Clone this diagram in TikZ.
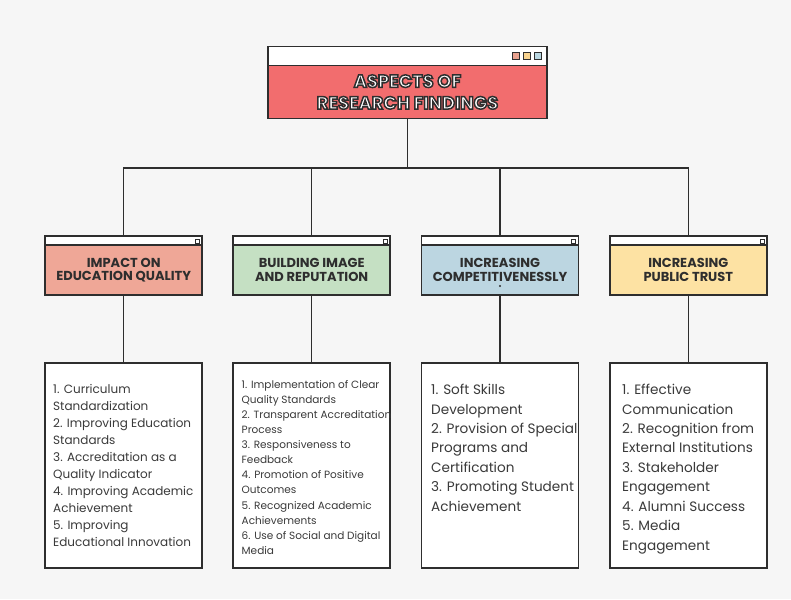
\documentclass[tikz,border=0pt]{standalone}
\usepackage{fontspec}
\setmainfont{Poppins}
\usetikzlibrary{positioning}
\definecolor{paper}{HTML}{F6F6F6}
\definecolor{ink}{HTML}{2E2E2E}
\definecolor{txt}{HTML}{3A3A3A}
\definecolor{titlered}{HTML}{F26D6E}
\definecolor{salmon}{HTML}{EFA797}
\definecolor{sage}{HTML}{C5E0C3}
\definecolor{sky}{HTML}{BCD6E1}
\definecolor{sand}{HTML}{FDE2A3}
\definecolor{sqpink}{HTML}{E9A28F}
\definecolor{sqyellow}{HTML}{F8D38F}
\definecolor{sqblue}{HTML}{B9D7E2}
% white letters with a dark outline
\newcommand{\outlined}[1]{\special{pdf:literal direct q 2 Tr 1.5 w 0.18 0.18 0.18 RG}#1\special{pdf:literal direct Q}}

\begin{document}
\begin{tikzpicture}[x=1pt,y=-1pt,
 bar/.style={draw=ink,line width=1.5pt,fill=white,minimum width=157pt,
 minimum height=9pt,inner sep=0pt,outer sep=0pt},
 cat/.style={draw=ink,line width=1.5pt,minimum width=157pt,minimum height=50pt,
 inner sep=0pt,outer sep=0pt,align=center,text=ink,
 font=\fontsize{13}{13.2}\selectfont\bfseries},
 list/.style={draw=ink,line width=1.5pt,fill=white,minimum width=157pt,
 minimum height=205pt,inner sep=0pt,outer sep=0pt},
 item/.style={anchor=north west,align=left,inner sep=0pt,text=txt},
 knob/.style={draw=ink,line width=0.8pt,fill=white,minimum size=4pt,inner sep=0pt},
 sq/.style={draw=ink,line width=0.8pt,minimum size=7pt,inner sep=0pt},
 link/.style={draw=ink,line width=1.5pt}]
% paper background
\fill[paper] (0,0) rectangle (791,599);

% title window
\node[bar,minimum width=279pt,minimum height=19pt] (tbar) at (407.5,56) {};
\node[draw=ink,line width=1.5pt,fill=titlered,minimum width=279pt,minimum height=53pt,
 inner sep=0pt,outer sep=0pt,anchor=north,align=center,text=white,
 font=\fontsize{17.8}{21.7}\selectfont\bfseries] (title) at (tbar.south)
 {\outlined{ASPECTS OF}\\\outlined{RESEARCH FINDINGS}};
\node[sq,fill=sqpink] (sq1) at (516,56) {};
\node[sq,fill=sqyellow] (sq2) at (527,56) {};
\node[sq,fill=sqblue] (sq3) at (538,56) {};

% category windows
\node[bar] (c1bar) at (123.7,240.5) {};
\node[cat,fill=salmon,anchor=north] (c1) at (c1bar.south) {IMPACT ON\\EDUCATION QUALITY};
\node[knob] (k1) at (197,241) {};
\node[bar] (c2bar) at (311.7,240.5) {};
\node[cat,fill=sage,anchor=north] (c2) at (c2bar.south) {BUILDING IMAGE\\AND REPUTATION};
\node[knob] (k2) at (385,241) {};
\node[bar] (c3bar) at (500,240.5) {};
\node[cat,fill=sky,anchor=north] (c3) at (c3bar.south) {INCREASING\\COMPETITIVENESSLY};
\node[knob] (k3) at (573,241) {};
\node[circle,fill=ink,minimum size=2.4pt,inner sep=0pt] (c3dot) at (500,286) {};
\node[bar] (c4bar) at (688.3,240.5) {};
\node[cat,fill=sand,anchor=north] (c4) at (c4bar.south) {INCREASING\\PUBLIC TRUST};
\node[knob] (k4) at (762,241) {};

% list boxes
\node[list] (l1) at (123.7,465.5) {};
\node[list] (l2) at (311.7,465.5) {};
\node[list] (l3) at (500,465.5) {};
\node[list] (l4) at (688.3,465.5) {};

\node[item,font=\fontsize{12}{17}\selectfont] (t1) at (53,384) {1. Curriculum\\Standardization\\2. Improving Education\\Standards\\3. Accreditation as a\\Quality Indicator\\4. Improving Academic\\Achievement\\5. Improving\\Educational Innovation};
\node[item,font=\fontsize{10.5}{15.1}\selectfont] (t2) at (241.5,380) {1. Implementation of Clear\\Quality Standards\\2. Transparent Accreditation\\Process\\3. Responsiveness to\\Feedback\\4. Promotion of Positive\\Outcomes\\5. Recognized Academic\\Achievements\\6. Use of Social and Digital\\Media};
\node[item,font=\fontsize{13.6}{19.45}\selectfont] (t3) at (431,384) {1. Soft Skills\\Development\\2. Provision of Special\\Programs and\\Certification\\3. Promoting Student\\Achievement};
\node[item,font=\fontsize{13.6}{19.45}\selectfont] (t4) at (622,384) {1. Effective\\Communication\\2. Recognition from\\External Institutions\\3. Stakeholder\\Engagement\\4. Alumni Success\\5. Media\\Engagement};

% connectors
\coordinate (hub) at (407.5,168);
\draw[link] (title.south) -- (hub);
\draw[link] (hub) -| (c1bar.north);
\draw[link] (hub) -| (c2bar.north);
\draw[link] (hub) -| (c3bar.north);
\draw[link] (hub) -| (c4bar.north);
\draw[link] (c1.south) -- (l1.north);
\draw[link] (c2.south) -- (l2.north);
\draw[link] (c3.south) -- (l3.north);
\draw[link] (c4.south) -- (l4.north);
\end{tikzpicture}
\end{document}
